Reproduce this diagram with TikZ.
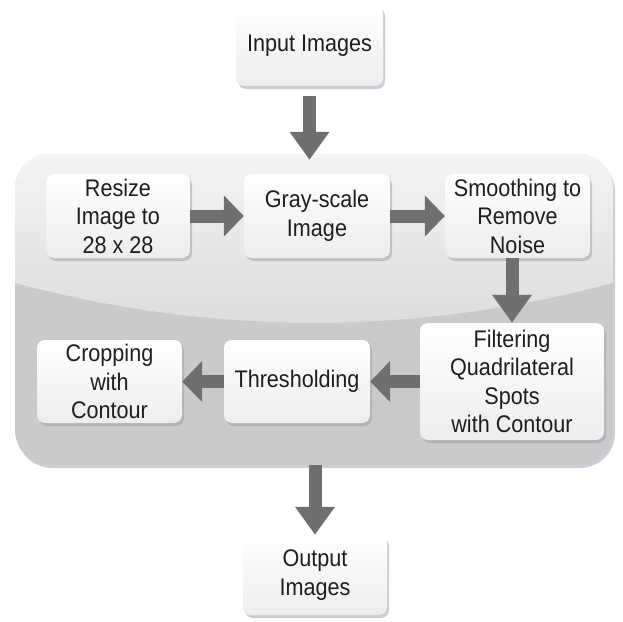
\documentclass[tikz,border=0pt]{standalone}
\usepackage{fontspec}
\setmainfont{Liberation Sans}[FakeStretch=0.9]
\usetikzlibrary{arrows.meta,shadows}
\definecolor{boxshade}{HTML}{EDEDED}
\definecolor{arrowgray}{HTML}{6F6F6F}
\definecolor{panellight}{HTML}{F4F4F4}
\definecolor{panelmid}{HTML}{DBDBDB}
\definecolor{paneldark}{HTML}{CACACA}
\definecolor{shadowblue}{HTML}{9C9CB0}
\definecolor{textgray}{HTML}{1E1E1E}
\tikzset{
  stepbox/.style={rounded corners=8pt, top color=white, bottom color=boxshade,
    align=center, inner sep=1pt, text=textgray,
    font=\fontsize{24}{28.5}\selectfont,
    drop shadow={shadow xshift=2pt, shadow yshift=-3pt, fill=shadowblue, opacity=.5}},
  flow/.style={arrowgray, line width=13pt},
  hhead/.style={-{Triangle[length=20pt, width=40pt]}},
  vhead/.style={-{Triangle[length=28pt, width=38pt]}},
}
\begin{document}
\begin{tikzpicture}[x=1pt, y=-1pt]
  \useasboundingbox (0,0) rectangle (623,621);

  % grey panel round the processing steps
  \node[rounded corners=35pt, fill=paneldark, minimum width=598pt, minimum height=311pt,
    drop shadow={shadow xshift=2pt, shadow yshift=-3pt, fill=shadowblue, opacity=.5}]
    (stage) at (314,309.5) {};
  \begin{scope}
    \clip[rounded corners=35pt] (stage.north west) rectangle (stage.south east);
    \shade[top color=panellight, bottom color=panelmid]
      (15,154) -- (613,154) -- (613,283) .. controls (414,336) and (214,336) .. (15,283) -- cycle;
  \end{scope}

  \node[stepbox, minimum width=147pt, minimum height=81pt] (inp) at (309.5,45.5) {Input Images};
  \node[stepbox, minimum width=144pt, minimum height=84pt] (resize) at (118,216) {Resize\\Image to\\28 x 28};
  \node[stepbox, minimum width=146pt, minimum height=84pt] (gray) at (317,216) {Gray-scale\\Image};
  \node[stepbox, minimum width=145pt, minimum height=84pt] (smooth) at (517.5,216) {Smoothing to\\Remove\\Noise};
  \node[stepbox, minimum width=184pt, minimum height=117pt] (filter) at (512,381.5) {Filtering\\Quadrilateral\\Spots\\with Contour};
  \node[stepbox, minimum width=146pt, minimum height=83pt] (thresh) at (297,381.5) {Thresholding};
  \node[stepbox, minimum width=145pt, minimum height=83pt] (crop) at (109.5,381.5) {Cropping\\with\\Contour};
  \node[stepbox, minimum width=144pt, minimum height=80pt] (outp) at (315,575) {Output\\Images};

  \draw[flow, vhead, shorten <=10pt, shorten >=-6pt] (inp) -- (inp |- stage.north);
  \draw[flow, hhead] (resize) -- (gray);
  \draw[flow, hhead] (gray) -- (smooth);
  \draw[flow, vhead] (smooth.south -| filter) -- (filter);
  \draw[flow, hhead] (filter) -- (thresh);
  \draw[flow, hhead] (thresh) -- (crop);
  \draw[flow, vhead] (stage.south -| outp) -- (outp);
\end{tikzpicture}
\end{document}
